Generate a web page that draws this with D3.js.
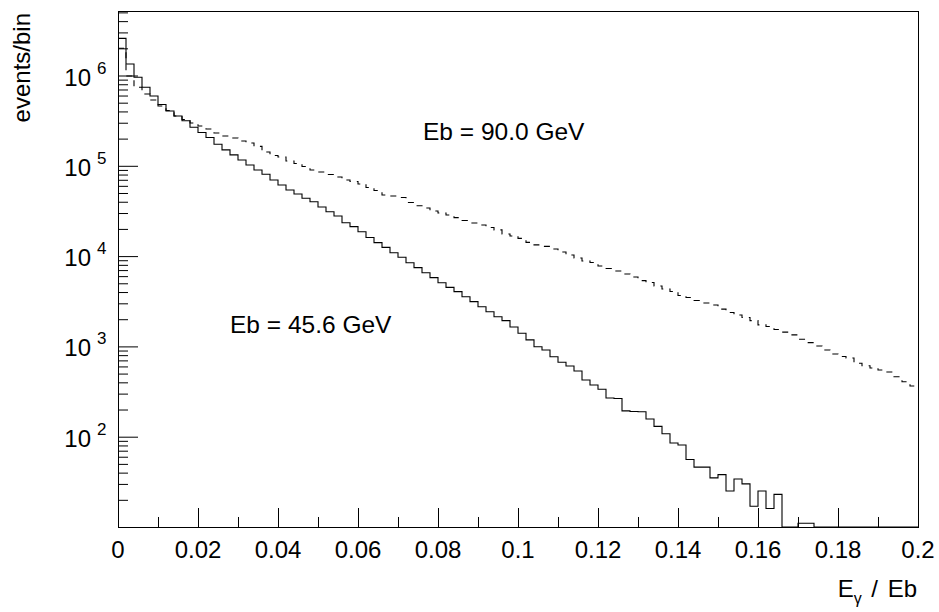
<!DOCTYPE html>
<html>
<head>
<script src="https://d3js.org/d3.v7.min.js"></script>
<style>
    body { margin: 0; background: #fff; }
    svg { display: block; font-family: "Liberation Sans", Arial, Helvetica, sans-serif; }
    .hist { fill: none; stroke: #000; stroke-width: 1.1px; }
    .axis line { stroke: #000; stroke-width: 1px; }
    .axis path { display: none; }
    .frame { fill: none; stroke: #000; stroke-width: 1px; }
</style>
</head>
<body>
<svg width="939" height="612"></svg>
<script>
// 100 bins of width 0.002 in Egamma/Eb, events per bin
var binWidth = 0.002;

var eb456 = [
    2580000, 1340000, 955000, 740000, 593000, 478000, 404000, 356000, 316000, 267000,
    234000, 206000, 173000, 150000, 132000, 116000, 102000, 89800, 80500, 69700,
    61200, 54000, 48700, 43700, 40000, 35000, 31000, 27800, 23400, 21200,
    18600, 16100, 14100, 12500, 10900, 9700, 8450, 7450, 6550, 5770,
    5070, 4510, 4040, 3550, 3130, 2750, 2420, 2130, 1930, 1640,
    1400, 1180, 993, 912, 769, 667, 607, 534, 425, 374,
    335, 268, 265, 193, 190, 189, 157, 130, 108, 85,
    81, 56, 46, 46, 35, 38, 25, 34, 30, 17,
    25, 16, 23, 0, 0, 11, 11, 0, 0, 0,
    0, 0, 0, 0, 0, 0, 0, 0, 0, 0
];

var eb900 = [
    2000000, 987000, 740000, 624000, 535000, 459000, 409000, 356000, 326000, 298000,
    276000, 256000, 231000, 214000, 203000, 188000, 179000, 164000, 142000, 130000,
    125000, 113000, 106000, 98200, 89800, 85300, 80100, 75200, 69700, 67000,
    62800, 57500, 53200, 47500, 46300, 44600, 39300, 36100, 34100, 31600,
    30000, 28500, 26700, 24800, 23300, 22100, 20700, 19500, 17600, 16700,
    15700, 14200, 13300, 12800, 12000, 11100, 10300, 9530, 8830, 8490,
    7770, 7290, 6840, 6340, 5870, 5350, 5100, 4670, 4320, 4060,
    3660, 3480, 3220, 3030, 2870, 2590, 2370, 2230, 2090, 1930,
    1730, 1660, 1540, 1440, 1340, 1200, 1100, 1010, 912, 824,
    773, 745, 650, 611, 577, 548, 521, 461, 406, 364
];

var xMajor = [0, 0.02, 0.04, 0.06, 0.08, 0.1, 0.12, 0.14, 0.16, 0.18, 0.2];
var xTickLabels = ["0", "0.02", "0.04", "0.06", "0.08", "0.1", "0.12", "0.14", "0.16", "0.18", "0.2"];
var xMinor = [0.01, 0.03, 0.05, 0.07, 0.09, 0.11, 0.13, 0.15, 0.17, 0.19];
var yDecades = [100, 1000, 10000, 100000, 1000000];
var yExponents = ["2", "3", "4", "5", "6"];
var yMin = 10, yMax = 5.18e6;

var svg = d3.select("svg"),
    plotL = 118, plotR = 918, plotT = 11, plotB = 527;

var x = d3.scaleLinear().domain([0, 0.2]).range([plotL, plotR]);
var y = d3.scaleLog().domain([yMin, yMax]).range([plotB, plotT]);

// minor log ticks 2..9 per decade
var yMinor = y.ticks().filter(function (t) {
    var l = Math.log10(t);
    return Math.abs(l - Math.round(l)) > 1e-6 && t > yMin && t < yMax;
});

svg.append("g").attr("class", "axis")
    .attr("transform", "translate(" + plotL + ",0)")
    .call(d3.axisLeft(y).tickValues(yMinor).tickSize(-10).tickFormat(""));
svg.append("g").attr("class", "axis")
    .attr("transform", "translate(" + plotL + ",0)")
    .call(d3.axisLeft(y).tickValues(yDecades).tickSize(-20).tickFormat(""));

svg.append("g").attr("class", "axis")
    .attr("transform", "translate(0," + plotB + ")")
    .call(d3.axisBottom(x).tickValues(xMinor).tickSize(-10).tickFormat(""));
svg.append("g").attr("class", "axis")
    .attr("transform", "translate(0," + plotB + ")")
    .call(d3.axisBottom(x).tickValues(xMajor).tickSize(-19).tickFormat(""));

svg.append("rect").attr("class", "frame")
    .attr("x", plotL + 0.5).attr("y", plotT + 0.5)
    .attr("width", plotR - plotL).attr("height", plotB - plotT);

// tick labels
svg.append("g").selectAll("text")
    .data(xMajor)
    .enter().append("text")
    .attr("x", function (d) { return x(d); })
    .attr("y", 558)
    .attr("text-anchor", "middle")
    .style("font-size", "24px")
    .text(function (d, i) { return xTickLabels[i]; });

var ylab = svg.append("g").selectAll("g")
    .data(yDecades)
    .enter().append("g");
ylab.append("text")
    .attr("x", 91)
    .attr("y", function (d) { return y(d) + 10; })
    .attr("text-anchor", "end")
    .style("font-size", "24px")
    .text("10");
ylab.append("text")
    .attr("x", 97)
    .attr("y", function (d) { return y(d) - 2; })
    .style("font-size", "17px")
    .text(function (d, i) { return yExponents[i]; });

// histograms as steps
function steps(counts) {
    var pts = counts.map(function (v, i) { return [i * binWidth, Math.max(v, yMin)]; });
    pts.push([counts.length * binWidth, pts[pts.length - 1][1]]);
    return pts;
}
var line = d3.line()
    .x(function (d) { return x(d[0]); })
    .y(function (d) { return y(d[1]); })
    .curve(d3.curveStepAfter);

svg.append("path").attr("class", "hist")
    .attr("d", line(steps(eb900)))
    .style("stroke-dasharray", "6,6");
svg.append("path").attr("class", "hist")
    .attr("d", line(steps(eb456)));

// annotations
svg.append("text").attr("x", 423).attr("y", 140)
    .style("font-size", "24.5px").text("Eb = 90.0 GeV");
svg.append("text").attr("x", 230).attr("y", 333)
    .style("font-size", "24.5px").text("Eb = 45.6 GeV");

// axis titles
svg.append("text")
    .attr("transform", "translate(30,13) rotate(-90)")
    .attr("text-anchor", "end")
    .style("font-size", "24px")
    .text("events/bin");

var xt = svg.append("text").attr("x", 917).attr("y", 597)
    .attr("text-anchor", "end").style("font-size", "24px")
    .style("word-spacing", "3px");
xt.append("tspan").text("E");
xt.append("tspan").attr("dy", 7).style("font-size", "16px").text("γ");
xt.append("tspan").attr("dy", -7).text(" / Eb");
</script>
</body>
</html>
